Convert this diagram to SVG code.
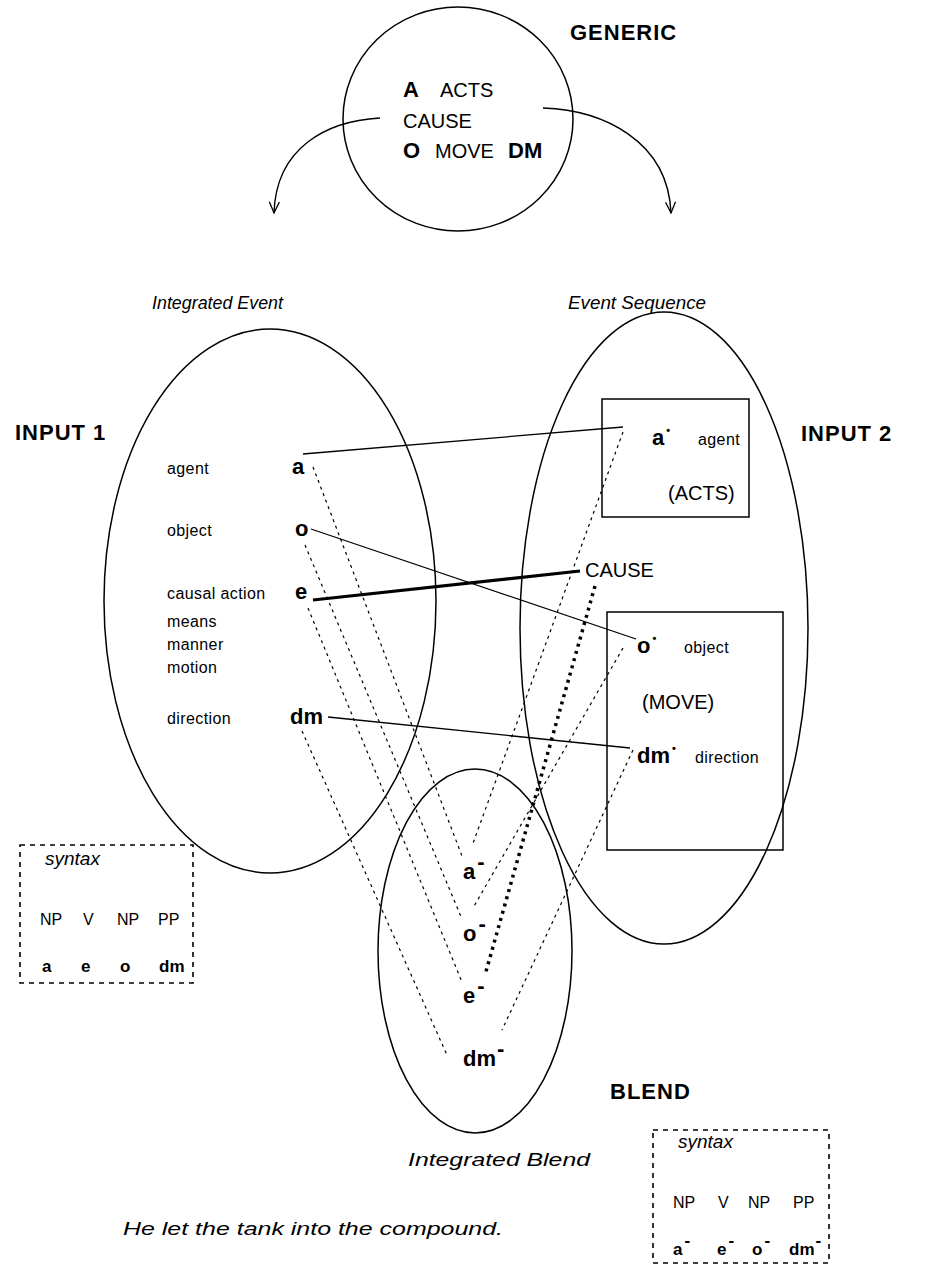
<svg xmlns="http://www.w3.org/2000/svg" width="932" height="1266" viewBox="0 0 932 1266">
<defs>
<marker id="vhead" markerUnits="userSpaceOnUse" markerWidth="16" markerHeight="16" viewBox="-8 -14 16 16" refX="0" refY="0" orient="auto-start-reverse" overflow="visible">
<path d="M-11,-5 L0,0 L-11,5" fill="none" stroke="#000" stroke-width="1.3"/>
</marker>
<style>
.ln{fill:none;stroke:#000;stroke-width:1.4}
.sh{fill:none;stroke:#000;stroke-width:1.5}
.map{fill:none;stroke:#000;stroke-width:1.3}
.thick{fill:none;stroke:#000;stroke-width:3.2}
.dash{fill:none;stroke:#000;stroke-width:1.2;stroke-dasharray:3 4}
.bigdot{fill:none;stroke:#000;stroke-width:3.5;stroke-dasharray:3 4.5}
.sbox{fill:none;stroke:#000;stroke-width:1.6;stroke-dasharray:5 5}
text{font-family:"Liberation Sans",Arial,sans-serif;fill:#000}
.title{font-size:22px;font-weight:bold;letter-spacing:1px}
.reg{font-size:20px}
.bb{font-size:22px;font-weight:bold}
.sm{font-size:16px;letter-spacing:0.4px}
.it{font-size:19px;font-style:italic}
.np{font-size:16px}
.sb{font-size:17px;font-weight:bold}
.pr{font-size:11px;font-weight:bold}
</style>
</defs>

<g id="connectors">
<path class="ln" d="M380,118 C326,121 276,148 274,213" marker-end="url(#vhead)"/>
<path class="ln" d="M543,108 C602,110 668,140 671,213" marker-end="url(#vhead)"/>
<line class="map" x1="303" y1="454" x2="623" y2="427"/>
<line class="map" x1="311" y1="529" x2="636" y2="639"/>
<line class="thick" x1="313" y1="600" x2="580" y2="571"/>
<line class="map" x1="328" y1="717" x2="630" y2="748"/>
<line class="dash" x1="313" y1="467" x2="462" y2="856"/>
<line class="dash" x1="305" y1="545" x2="462" y2="919"/>
<line class="dash" x1="308" y1="608" x2="462" y2="982"/>
<line class="dash" x1="302" y1="731" x2="447" y2="1055"/>
<line class="dash" x1="623" y1="432" x2="472" y2="846"/>
<line class="dash" x1="623" y1="648" x2="473" y2="908"/>
<line class="dash" x1="633" y1="750" x2="502" y2="1030"/>
<line class="bigdot" x1="595" y1="586" x2="485" y2="975"/>
</g>

<g id="generic">
<ellipse class="sh" cx="458" cy="119" rx="115" ry="112"/>
<text class="title" x="570" y="40">GENERIC</text>
<text x="403" y="97"><tspan class="bb" font-size="20">A</tspan><tspan class="reg" x="440">ACTS</tspan></text>
<text class="reg" x="403" y="128">CAUSE</text>
<text x="403" y="158"><tspan class="bb" font-size="20">O</tspan><tspan class="reg" x="435">MOVE</tspan><tspan class="bb" font-size="20" x="508">DM</tspan></text>
</g>

<g id="input1">
<ellipse class="sh" cx="270" cy="601" rx="166" ry="272"/>
<text class="title" x="15" y="440">INPUT 1</text>
<text class="it" x="152" y="309" textLength="131" lengthAdjust="spacingAndGlyphs">Integrated Event</text>
<text class="sm" x="167" y="474">agent</text>
<text class="sm" x="167" y="536">object</text>
<text class="sm" x="167" y="599">causal action</text>
<text class="sm" x="167" y="627">means</text>
<text class="sm" x="167" y="650">manner</text>
<text class="sm" x="167" y="673">motion</text>
<text class="sm" x="167" y="724">direction</text>
<text class="bb" x="292" y="474">a</text>
<text class="bb" x="295" y="536">o</text>
<text class="bb" x="295" y="599">e</text>
<text class="bb" x="290" y="724">dm</text>
</g>

<g id="input2">
<ellipse class="sh" cx="664" cy="628" rx="144" ry="316"/>
<text class="title" x="801" y="441">INPUT 2</text>
<text class="it" x="568" y="309" textLength="138" lengthAdjust="spacingAndGlyphs">Event Sequence</text>
<text class="reg" x="585" y="577">CAUSE</text>
</g>

<g id="acts-box">
<rect class="sh" x="602" y="399" width="147" height="118"/>
<text x="652" y="445"><tspan class="bb">a</tspan><tspan class="pr" dx="2" dy="-11">•</tspan></text>
<text class="sm" x="698" y="445">agent</text>
<text class="reg" x="668" y="500">(ACTS)</text>
</g>

<g id="move-box">
<rect class="sh" x="607" y="612" width="176" height="238"/>
<text x="637" y="653"><tspan class="bb">o</tspan><tspan class="pr" dx="2" dy="-11">•</tspan></text>
<text class="sm" x="684" y="653">object</text>
<text class="reg" x="642" y="709">(MOVE)</text>
<text x="637" y="763"><tspan class="bb">dm</tspan><tspan class="pr" dx="2" dy="-11">•</tspan></text>
<text class="sm" x="695" y="763">direction</text>
</g>

<g id="blend">
<ellipse class="sh" cx="475" cy="951" rx="97" ry="182"/>
<text class="title" x="610" y="1099">BLEND</text>
<text class="it" x="408" y="1166" textLength="182" lengthAdjust="spacingAndGlyphs">Integrated Blend</text>
<text class="bb" x="463" y="879">a<tspan dx="2" dy="-10">-</tspan></text>
<text class="bb" x="463" y="941">o<tspan dx="2" dy="-10">-</tspan></text>
<text class="bb" x="463" y="1003">e<tspan dx="2" dy="-10">-</tspan></text>
<text class="bb" x="463" y="1066">dm<tspan dx="1" dy="-10">-</tspan></text>
</g>

<g id="syntax1">
<rect class="sbox" x="20" y="845" width="173" height="138"/>
<text class="it" x="45" y="865">syntax</text>
<text class="np" x="40" y="925">NP</text>
<text class="np" x="83" y="925">V</text>
<text class="np" x="117" y="925">NP</text>
<text class="np" x="158" y="925">PP</text>
<text class="sb" x="42" y="972">a</text>
<text class="sb" x="81" y="972">e</text>
<text class="sb" x="120" y="972">o</text>
<text class="sb" x="159" y="972">dm</text>
</g>

<g id="syntax2">
<rect class="sbox" x="653" y="1130" width="176" height="133"/>
<text class="it" x="678" y="1148">syntax</text>
<text class="np" x="673" y="1208">NP</text>
<text class="np" x="718" y="1208">V</text>
<text class="np" x="748" y="1208">NP</text>
<text class="np" x="793" y="1208">PP</text>
<text class="sb" x="673" y="1255">a<tspan dx="2" dy="-9">-</tspan></text>
<text class="sb" x="717" y="1255">e<tspan dx="2" dy="-9">-</tspan></text>
<text class="sb" x="752" y="1255">o<tspan dx="2" dy="-9">-</tspan></text>
<text class="sb" x="789" y="1255">dm<tspan dx="1" dy="-9">-</tspan></text>
</g>

<g id="caption">
<text class="it" x="123" y="1235" textLength="380" lengthAdjust="spacingAndGlyphs">He let the tank into the compound.</text>
</g>
</svg>
